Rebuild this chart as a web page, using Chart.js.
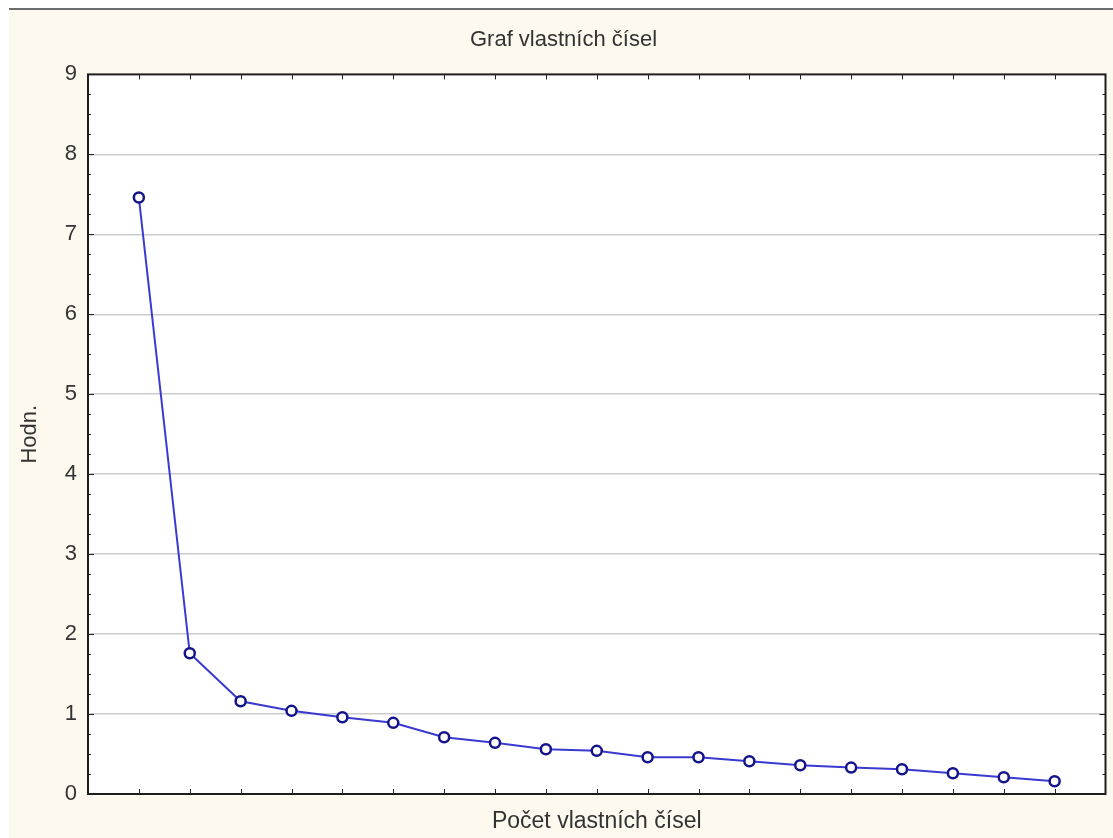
<!DOCTYPE html>
<html>
<head>
<meta charset="utf-8">
<script src="https://cdn.jsdelivr.net/npm/chart.js@4.4.1/dist/chart.umd.min.js"></script>
<style>
  html, body { margin: 0; padding: 0; background: #ffffff; }
  #wrap { width: 1113px; height: 838px; }
</style>
</head>
<body>
<div id="wrap"><canvas id="scree"></canvas></div>
<script>
// data
const poradi = [1, 2, 3, 4, 5, 6, 7, 8, 9, 10, 11, 12, 13, 14, 15, 16, 17, 18, 19];
const vlastniCisla = [7.46, 1.76, 1.16, 1.04, 0.96, 0.89, 0.71, 0.64, 0.56, 0.54, 0.46, 0.46, 0.41, 0.36, 0.33, 0.31, 0.26, 0.21, 0.16];
const yTicks = [0, 1, 2, 3, 4, 5, 6, 7, 8, 9];

const textColor = '#333333';
const fontName = '"Liberation Sans", Arial, sans-serif';

// pozadí + rám grafu + ticky dovnitř
const ramecek = {
    id: 'ramecek',
    beforeDraw(chart) {
        const c = chart.ctx;
        const a = chart.chartArea;
        c.save();
        c.fillStyle = '#ffffff';
        c.fillRect(0, 0, chart.width, chart.height);
        c.fillStyle = '#fdf9ef';
        c.fillRect(9, 10, chart.width - 9, chart.height - 10);
        c.fillStyle = '#6b6b6b';
        c.fillRect(9, 8, chart.width - 9, 2);
        c.fillStyle = '#ffffff';
        c.fillRect(a.left, a.top, a.right - a.left, a.bottom - a.top);
        c.restore();
    },
    afterDatasetsDraw(chart) {
        const c = chart.ctx;
        const a = chart.chartArea;
        const xs = chart.scales.x, ys = chart.scales.y;
        c.save();
        c.strokeStyle = '#222222';
        c.lineWidth = 1;
        c.beginPath();
        poradi.forEach(v => {
            const px = Math.round(xs.getPixelForValue(v)) + 0.5;
            c.moveTo(px, a.top); c.lineTo(px, a.top + 5);
            c.moveTo(px, a.bottom); c.lineTo(px, a.bottom - 5);
        });
        for (let v = 0.25; v < 9; v += 0.25) {
            const py = Math.round(ys.getPixelForValue(v)) + 0.5;
            const len = Math.abs(v - Math.round(v)) < 0.01 ? 6 : 3;
            c.moveTo(a.left, py); c.lineTo(a.left + len, py);
            c.moveTo(a.right, py); c.lineTo(a.right - len, py);
        }
        c.stroke();
        c.lineWidth = 2;
        c.strokeStyle = '#1e1e1e';
        c.strokeRect(a.left, a.top, a.right - a.left, a.bottom - a.top);
        c.restore();
    }
};

new Chart(document.getElementById('scree'), {
    type: 'line',
    data: {
        datasets: [{
            label: 'Vlastní čísla',
            data: poradi.map((p, i) => ({ x: p, y: vlastniCisla[i] })),
            borderColor: '#3a3ad0',
            borderWidth: 2,
            pointRadius: 5,
            pointBorderWidth: 2.5,
            pointBorderColor: '#14148a',
            pointBackgroundColor: '#ffffff',
            tension: 0,
            fill: false
        }]
    },
    options: {
        responsive: true,
        maintainAspectRatio: false,
        animation: false,
        layout: { padding: { left: 17, right: 3, top: 10, bottom: 0 } },
        plugins: {
            legend: { display: false },
            tooltip: { enabled: false },
            title: {
                display: true,
                text: 'Graf vlastních čísel',
                color: textColor,
                font: { family: fontName, size: 22, weight: 'normal', lineHeight: 1.2 },
                padding: { top: 17, bottom: 21 }
            }
        },
        scales: {
            x: {
                type: 'linear',
                min: 0,
                max: 20,
                grid: { display: false },
                border: { display: false },
                ticks: { display: false },
                title: {
                    display: true,
                    text: 'Počet vlastních čísel',
                    color: textColor,
                    font: { family: fontName, size: 23, lineHeight: 1.2 },
                    padding: { top: 0, bottom: 3 }
                },
                afterFit(s) { s.height = 44; }
            },
            y: {
                min: 0,
                max: 9,
                afterBuildTicks(s) { s.ticks = yTicks.map(v => ({ value: v })); },
                grid: {
                    color: ctx => (ctx.tick && (ctx.tick.value === 0 || ctx.tick.value === 9)) ? 'rgba(0,0,0,0)' : '#cccccc',
                    lineWidth: 1.5,
                    drawTicks: false
                },
                border: { display: false },
                ticks: {
                    color: textColor,
                    padding: 11,
                    font: { family: fontName, size: 22 }
                },
                title: {
                    display: true,
                    text: 'Hodn.',
                    color: textColor,
                    font: { family: fontName, size: 22, lineHeight: 1.2 },
                    padding: 0
                },
                afterFit(s) { s.width = 71; }
            }
        }
    },
    plugins: [ramecek]
});
</script>
</body>
</html>
